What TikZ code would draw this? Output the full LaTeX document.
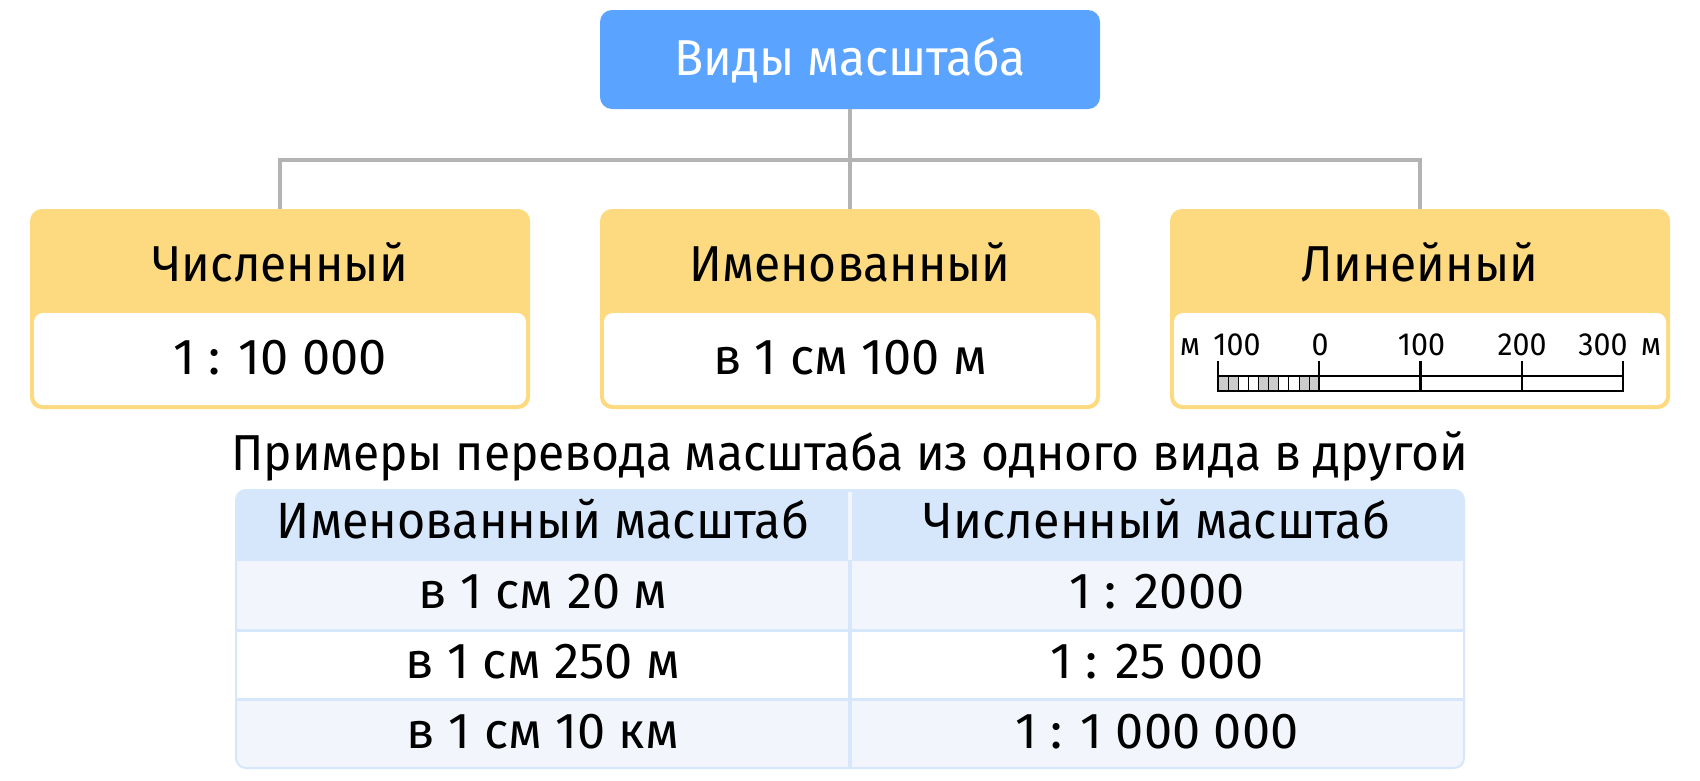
\documentclass[tikz,border=0pt]{standalone}
\usepackage{fontspec}
\setmainfont{Fira Sans}[FakeStretch=0.95]
\newfontfamily\numfam{Fira Sans}
\definecolor{topblue}{HTML}{5AA3FF}
\definecolor{yel}{HTML}{FDDA80}
\definecolor{lineg}{HTML}{B3B3B3}
\definecolor{hdr}{HTML}{D6E7FC}
\definecolor{tint}{HTML}{F2F6FC}
\definecolor{cellg}{HTML}{CCCCCC}
\newcommand{\bigf}{\fontsize{50.5}{60}\selectfont}
\newcommand{\tabf}{\fontsize{51}{60}\selectfont}
\newcommand{\valf}{\numfam\fontsize{50.5}{60}\selectfont}
\newcommand{\smf}{\fontsize{32}{38}\selectfont}
\begin{document}
\begin{tikzpicture}[x=1pt,y=-1pt]
\tikzset{
  conn/.style={draw=lineg, line width=3.5pt},
  topbox/.style={fill=topblue, rounded corners=12pt, minimum width=500pt, minimum height=99pt, inner sep=0pt},
  ybox/.style={fill=yel, rounded corners=12pt, minimum width=500pt, minimum height=200pt, inner sep=0pt},
  wbox/.style={fill=white, rounded corners=9pt, minimum width=492pt, minimum height=92pt, inner sep=0pt},
  txt/.style={anchor=base, inner sep=0pt, font=\bigf},
  ttxt/.style={anchor=base, inner sep=0pt, font=\tabf},
  vtxt/.style={anchor=base, inner sep=0pt, font=\valf},
  stxt/.style={anchor=base, inner sep=0pt, font=\smf},
  scaleline/.style={draw=black, line width=2.2pt},
}
\useasboundingbox (0,0) rectangle (1700,780);
\fill[white] (0,0) rectangle (1700,780);

% top box
\node[topbox] (top) at (850,59.5) {};
\node[txt, text=white] (toptxt) at (850,75) {Виды масштаба};

% three boxes
\node[ybox] (b1) at (280,309) {};
\node[ybox] (b2) at (850,309) {};
\node[ybox] (b3) at (1420,309) {};
\node[wbox] (w1) at (280,359) {};
\node[wbox] (w2) at (850,359) {};
\node[wbox] (w3) at (1420,359) {};

% connectors
\coordinate (hub) at (850,160);
\draw[conn] (top.south) -- (hub);
\draw[conn] (hub) -| (b1.north);
\draw[conn] (hub) -| (b3.north);
\draw[conn] (hub) -- (b2.north);

% headers
\node[txt] (h1) at (280,281) {Численный};
\node[txt] (h2) at (850,281) {Именованный};
\node[txt] (h3) at (1420,281) {Линейный};

% values
\node[vtxt] (v1) at (280,374) {1 : 10 000};
\node[vtxt] (v2) at (850,374) {в 1 см 100 м};

% linear scale
\foreach \j in {0,1,4,5,8,9} {
  \fill[cellg] (1218+\j*10.125,376) rectangle (1218+\j*10.125+10.125,391);
}
\foreach \j in {1,...,9} {
  \draw[black, line width=0.9pt] (1218+\j*10.125,376) -- (1218+\j*10.125,391);
}
\draw[scaleline] (1218,376) rectangle (1623,391);
\foreach \i in {0,...,4} {
  \draw[scaleline] (1218+\i*101.25,361) -- (1218+\i*101.25,391);
}
\node[stxt] (sm1) at (1190,355) {м};
\node[stxt] (s100l) at (1237,355) {100};
\node[stxt] (s0) at (1320,355) {0};
\node[stxt] (s100) at (1421.5,355) {100};
\node[stxt] (s200) at (1522,355) {200};
\node[stxt] (s300) at (1603,355) {300};
\node[stxt] (sm2) at (1651,355) {м};

% caption
\node[txt] (cap) at (850,470) {Примеры перевода масштаба из одного вида в другой};

% table
\begin{scope}
  \clip[rounded corners=10pt] (236,490) rectangle (1464,768);
  \fill[hdr] (236,490) rectangle (1464,561);
  \fill[tint] (236,561) rectangle (1464,630);
  \fill[white] (236,630) rectangle (1464,699);
  \fill[tint] (236,699) rectangle (1464,768);
  \fill[hdr] (236,628.5) rectangle (1464,631.5);
  \fill[hdr] (236,697.5) rectangle (1464,700.5);
  \fill[hdr] (848,561) rectangle (852,768);
  \fill[tint] (848,492) rectangle (852,560);
\end{scope}
\draw[hdr, line width=2pt, rounded corners=10pt] (236,490) rectangle (1464,768);

\node[ttxt] (th1) at (543,538) {Именованный масштаб};
\node[ttxt] (th2) at (1157,538) {Численный масштаб};
\node[vtxt] (r1a) at (543,608) {в 1 см 20 м};
\node[vtxt] (r1b) at (1157,608) {1 : 2000};
\node[vtxt] (r2a) at (543,678) {в 1 см 250 м};
\node[vtxt] (r2b) at (1157,678) {1 : 25 000};
\node[vtxt] (r3a) at (543,748) {в 1 см 10 км};
\node[vtxt] (r3b) at (1157,748) {1 : 1 000 000};
\end{tikzpicture}
\end{document}
